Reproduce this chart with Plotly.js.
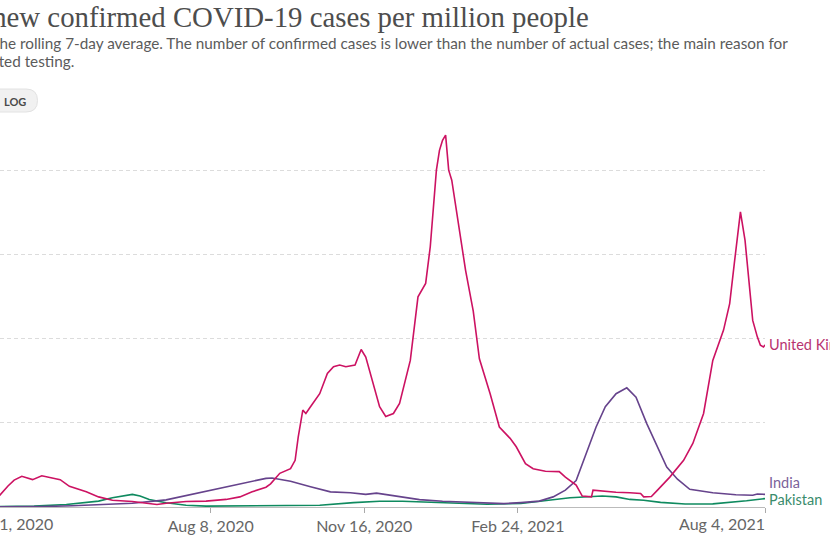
<!DOCTYPE html>
<html>
<head>
<meta charset="utf-8">
<script src="https://cdn.plot.ly/plotly-3.0.1.min.js"></script>
<style>
  html, body { margin: 0; padding: 0; width: 830px; height: 540px; overflow: hidden; background: #fff; }
  #chart { position: absolute; left: -70px; top: 0; width: 960px; height: 540px; }
</style>
</head>
<body>
<div id="chart"></div>
<script>
// ---- data (7-day rolling average, confirmed cases per million) ----
const ukDates = ['2020-03-01','2020-03-10','2020-03-16','2020-03-23','2020-03-29','2020-04-02','2020-04-07','2020-04-14','2020-04-20','2020-05-02','2020-05-08','2020-05-19','2020-05-27','2020-06-05','2020-06-18','2020-06-27','2020-07-04','2020-07-10','2020-07-23','2020-08-05','2020-08-18','2020-08-27','2020-09-04','2020-09-13','2020-09-16','2020-09-22','2020-09-29','2020-10-02','2020-10-04','2020-10-07','2020-10-09','2020-10-12','2020-10-18','2020-10-23','2020-10-27','2020-10-31','2020-11-04','2020-11-10','2020-11-14','2020-11-17','2020-11-22','2020-11-26','2020-11-30','2020-12-05','2020-12-09','2020-12-16','2020-12-21','2020-12-26','2020-12-29','2021-01-02','2021-01-04','2021-01-06','2021-01-08','2021-01-10','2021-01-12','2021-01-17','2021-01-21','2021-01-26','2021-01-30','2021-02-06','2021-02-12','2021-02-19','2021-02-23','2021-03-01','2021-03-06','2021-03-14','2021-03-23','2021-03-27','2021-04-03','2021-04-07','2021-04-13','2021-04-14','2021-04-20','2021-04-29','2021-05-08','2021-05-15','2021-05-17','2021-05-22','2021-05-26','2021-06-03','2021-06-12','2021-06-18','2021-06-25','2021-07-01','2021-07-08','2021-07-12','2021-07-15','2021-07-18','2021-07-19','2021-07-22','2021-07-25','2021-07-27','2021-07-30','2021-08-01','2021-08-03','2021-08-04'];
const ukValues = [0,1,5,25,50,64,73,65,74,65,49,36,24,16,13,9,6,9,13,14,18,24,36,47,55,80,91,111,166,230,222,238,269,317,333,337,333,337,374,356,293,238,215,222,246,348,499,531,618,800,847,871,883,800,776,657,562,465,352,269,190,163,143,103,91,85,84,71,52,26,24,40,38,35,34,32,24,25,40,71,111,151,222,348,420,483,578,681,701,633,515,443,404,384,380,385];

const indiaDates = ['2020-03-01','2020-03-23','2020-04-20','2020-05-10','2020-05-27','2020-06-18','2020-07-10','2020-07-23','2020-08-05','2020-08-18','2020-08-31','2020-09-13','2020-09-17','2020-09-29','2020-10-12','2020-10-25','2020-11-07','2020-11-17','2020-11-24','2020-12-07','2020-12-22','2021-01-06','2021-01-24','2021-02-15','2021-02-26','2021-03-10','2021-03-19','2021-03-27','2021-04-03','2021-04-08','2021-04-16','2021-04-22','2021-04-29','2021-05-06','2021-05-12','2021-05-19','2021-05-26','2021-06-01','2021-06-08','2021-06-16','2021-07-01','2021-07-16','2021-07-27','2021-07-30','2021-08-04'];
const indiaValues = [0,0.3,1,3,5,9,17,27,38,47,58,68,69,61,48,36,34,30,33,25,17.5,13.5,10.5,8,10.5,14,24,40,63,110,190,238,269,283,261,198,143,95,66,42,34,29,28,31,30];

const pakistanDates = ['2020-03-01','2020-03-23','2020-04-15','2020-05-06','2020-05-27','2020-06-05','2020-06-12','2020-06-18','2020-06-23','2020-06-29','2020-07-10','2020-07-23','2020-08-05','2020-09-13','2020-10-18','2020-11-09','2020-11-26','2020-12-11','2020-12-22','2021-01-13','2021-02-04','2021-02-26','2021-03-19','2021-03-30','2021-04-20','2021-04-29','2021-05-08','2021-05-17','2021-05-28','2021-06-13','2021-07-01','2021-07-16','2021-07-23','2021-07-30','2021-08-04'];
const pakistanValues = [0,0.5,2,6,14,22,26,30,26,18,10,4,2,2.5,4,10.5,13.5,13.5,12,8,6.5,8.5,17,22,26,24,18,16,11,7,7.5,12,15,18,20];

const countryNames = ['United Kingdom','India','Pakistan'];
const tickDates = ['2020-03-01','2020-08-08','2020-11-16','2021-02-24','2021-08-04'];
const tickLabels = ['Mar 1, 2020','Aug 8, 2020','Nov 16, 2020','Feb 24, 2021','Aug 4, 2021'];
const yTicks = [0,200,400,600,800];

// ---- layout geometry (pixels) ----
const L = 70;            // part of the chart lying left of the window
const DIVW = 960, DIVH = 540;
const mL = 35, mR = DIVW - 835, mT = 128, mB = 33;
const plotW = DIVW - mL - mR, plotH = DIVH - mT - mB;
const X = vx => (vx + L - mL) / plotW;     // window px -> paper x
const Y = vy => (DIVH - mB - vy) / plotH;   // window px -> paper y

const colors = ['#CC1262', '#66438C', '#0F8A5F'];
const labelColors = ['#B8336F', '#7B629A', '#3A8C6C'];
const labelY = [344, 482.5, 499];

const traces = [
  {x: ukDates, y: ukValues},
  {x: indiaDates, y: indiaValues},
  {x: pakistanDates, y: pakistanValues}
].map((t, i) => ({
  x: t.x, y: t.y, type: 'scatter', mode: 'lines', name: countryNames[i],
  line: {color: colors[i], width: 1.6}, hoverinfo: 'skip'
}));
traces.reverse(); // UK drawn on top

const subFont = {family: 'Lato, sans-serif', size: 15.3, color: '#5b5b5b'};
const annotations = [
  {text: 'Daily new confirmed COVID-19 cases per million people', xref: 'paper', yref: 'paper',
   x: X(591), xanchor: 'right', y: Y(17), yanchor: 'middle', showarrow: false,
   font: {family: 'Liberation Serif, serif', size: 28.8, color: '#4d4d4d'}},
  {text: 'Shown is the rolling 7-day average. The number of confirmed cases is lower than the number of actual cases; the main reason for', xref: 'paper', yref: 'paper',
   x: X(-72), xanchor: 'left', y: Y(43), yanchor: 'middle', showarrow: false, font: subFont},
  {text: 'that is limited testing.', xref: 'paper', yref: 'paper',
   x: X(-72), xanchor: 'left', y: Y(61), yanchor: 'middle', showarrow: false, font: subFont},
  {text: 'LINEAR', xref: 'paper', yref: 'paper',
   x: X(-32), xanchor: 'center', y: Y(101), yanchor: 'middle', showarrow: false,
   font: {family: 'Lato, sans-serif', size: 11, color: '#555'}},
  {text: '<b>LOG</b>', xref: 'paper', yref: 'paper',
   x: X(15), xanchor: 'center', y: Y(101), yanchor: 'middle', showarrow: false,
   font: {family: 'Lato, sans-serif', size: 11, color: '#4a4a4a'}},
  {text: tickLabels[0], xref: 'paper', yref: 'paper', x: 0, xanchor: 'left', y: Y(523), yanchor: 'middle',
   showarrow: false, font: {family: 'Lato, sans-serif', size: 16, color: '#666'}},
  {text: tickLabels[4], xref: 'paper', yref: 'paper', x: 1, xanchor: 'right', xshift: 2, y: Y(523), yanchor: 'middle',
   showarrow: false, font: {family: 'Lato, sans-serif', size: 16, color: '#666'}}
];
countryNames.forEach((n, i) => {
  annotations.push({
    text: n, xref: 'paper', yref: 'paper', x: 1, xanchor: 'left', xshift: 2,
    y: Y(labelY[i]), yanchor: 'middle', showarrow: false,
    font: {family: 'Lato, sans-serif', size: 14.5, color: labelColors[i]}
  });
});

const layout = {
  width: DIVW, height: DIVH,
  margin: {l: mL, r: mR, t: mT, b: mB, pad: 0},
  paper_bgcolor: '#fff', plot_bgcolor: '#fff',
  showlegend: false,
  xaxis: {
    type: 'date', range: [tickDates[0], tickDates[4]],
    tickvals: tickDates, ticktext: ['', tickLabels[1], tickLabels[2], tickLabels[3], ''],
    ticks: 'outside', ticklen: 5, tickcolor: '#aaa', tickwidth: 1,
    showline: true, linecolor: '#bbb', linewidth: 1,
    showgrid: false, zeroline: false, fixedrange: true,
    tickfont: {family: 'Lato, sans-serif', size: 16, color: '#666'}
  },
  yaxis: {
    range: [0, 900], tickvals: yTicks, showticklabels: false,
    showgrid: true, gridcolor: '#dcdcdc', griddash: '4px,3px', gridwidth: 1,
    zeroline: false, showline: false, ticks: '', fixedrange: true
  },
  shapes: [
    {type: 'path', xref: 'paper', yref: 'paper',
     path: 'M ' + X(-70) + ',' + Y(89) + ' L ' + X(26) + ',' + Y(89) +
           ' Q ' + X(37.5) + ',' + Y(89) + ' ' + X(37.5) + ',' + Y(100.5) +
           ' Q ' + X(37.5) + ',' + Y(112) + ' ' + X(26) + ',' + Y(112) +
           ' L ' + X(-70) + ',' + Y(112) + ' Z',
     fillcolor: '#f1f1f1', line: {color: '#e2e2e2', width: 1}, layer: 'above'}
  ],
  annotations: annotations
};

Plotly.newPlot('chart', traces, layout, {displayModeBar: false, staticPlot: true});
</script>
</body>
</html>
